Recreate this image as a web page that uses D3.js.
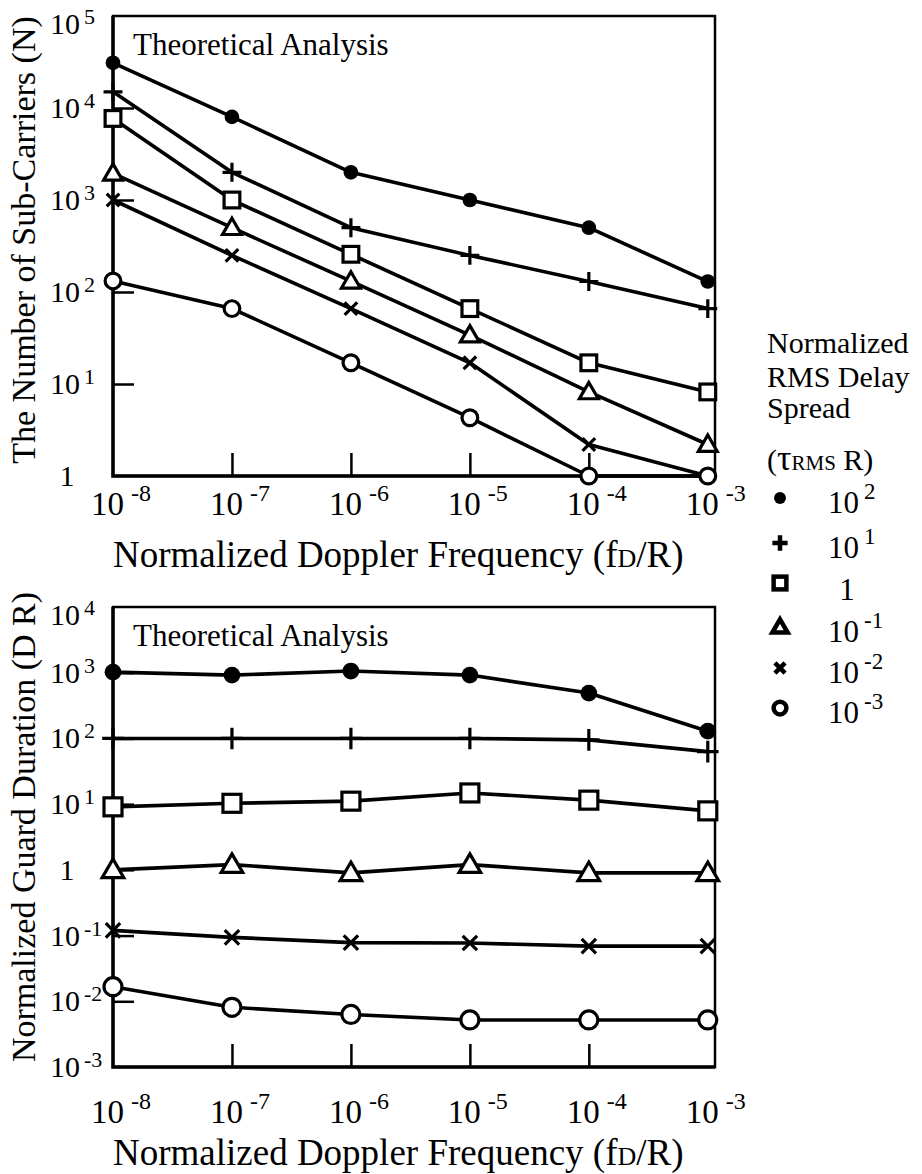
<!DOCTYPE html>
<html>
<head>
<meta charset="utf-8">
<script src="https://cdn.jsdelivr.net/npm/d3@7"></script>
<style>
  body { margin: 0; background: #fff; }
  svg text { font-family: "Liberation Serif", "DejaVu Serif", "Times New Roman", Times, serif; fill: #000; }
</style>
</head>
<body>
<svg id="chart" width="922" height="1174"></svg>
<script>
// normalized Doppler frequency (fD/R) of every point
const dopplerFreq = [1e-8, 1e-7, 1e-6, 1e-5, 1e-4, 1e-3];
const xTickExp = [-8, -7, -6, -5, -4, -3];

// series = normalized rms delay spread (tau_rms R)
const spreadExp = [2, 1, 0, -1, -2, -3];
const spreadMarker = ['dot', 'plus', 'square', 'triangle', 'cross', 'circle'];

// top panel: number of sub-carriers (N)
const carriersSpread1e2  = [31000, 8000, 2000, 1000, 500, 130];
const carriersSpread1e1  = [15000, 2000, 500, 250, 130, 66];
const carriersSpread1e0  = [7700, 1000, 257, 66, 17, 8.2];
const carriersSpread1em1 = [1950, 500, 131, 34, 8.2, 2.2];
const carriersSpread1em2 = [1000, 250, 66, 17, 2.2, 1];
const carriersSpread1em3 = [132, 66, 17, 4.3, 1, 1];
const topYTickExp = [0, 1, 2, 3, 4, 5];

// bottom panel: normalized guard duration (D R)
const guardSpread1e2  = [1020, 920, 1060, 920, 490, 129];
const guardSpread1e1  = [100, 100, 100, 100, 95, 63];
const guardSpread1e0  = [9.1, 10.3, 11.1, 14.8, 11.5, 7.9];
const guardSpread1em1 = [1.0, 1.2, 0.9, 1.2, 0.9, 0.9];
const guardSpread1em2 = [0.12, 0.094, 0.078, 0.077, 0.069, 0.069];
const guardSpread1em3 = [0.0167, 0.0081, 0.0063, 0.0052, 0.0052, 0.0052];
const bottomYTickExp = [-3, -2, -1, 0, 1, 2, 3, 4];

const topSeries = [carriersSpread1e2, carriersSpread1e1, carriersSpread1e0,
                   carriersSpread1em1, carriersSpread1em2, carriersSpread1em3];
const bottomSeries = [guardSpread1e2, guardSpread1e1, guardSpread1e0,
                      guardSpread1em1, guardSpread1em2, guardSpread1em3];

const FONT = '"Liberation Serif", "DejaVu Serif", serif';
const svg = d3.select('#chart').attr('font-family', FONT);

// one marker glyph, s = size factor, w = stroke width
function drawMarker(g, type, s, w) {
	if (type === 'dot') {
		g.append('circle').attr('r', 7 * s).attr('fill', '#000');
	} else if (type === 'circle') {
		g.append('circle').attr('r', 7.5 * s).attr('fill', '#fff')
			.attr('stroke', '#000').attr('stroke-width', w);
	} else if (type === 'square') {
		g.append('rect').attr('x', -7.5 * s).attr('y', -7.5 * s)
			.attr('width', 15 * s).attr('height', 15 * s)
			.attr('fill', '#fff').attr('stroke', '#000').attr('stroke-width', w);
	} else if (type === 'triangle') {
		g.append('path').attr('d', `M0,${-9 * s}L${9 * s},${6.5 * s}L${-9 * s},${6.5 * s}Z`)
			.attr('fill', '#fff').attr('stroke', '#000').attr('stroke-width', w)
			.attr('stroke-linejoin', 'miter');
	} else if (type === 'plus') {
		g.append('path').attr('d', `M${-9 * s},0H${9 * s}M0,${-9 * s}V${9 * s}`)
			.attr('stroke', '#000').attr('stroke-width', w);
	} else if (type === 'cross') {
		g.append('path').attr('d', `M${-6 * s},${-6 * s}L${6 * s},${6 * s}M${-6 * s},${6 * s}L${6 * s},${-6 * s}`)
			.attr('stroke', '#000').attr('stroke-width', w);
	}
}

// "10^e" label, "1" when e is 0
function powLabel(g, x, y, e, size, supSize, raise, anchor, gap) {
	const t = g.append('text').attr('x', x).attr('y', y)
		.attr('font-size', size).attr('text-anchor', anchor);
	if (e === 0) {
		t.text('1');
		return t;
	}
	t.append('tspan').text('10');
	t.append('tspan').attr('font-size', supSize).attr('dx', gap || 4).attr('dy', -raise)
		.text(e < 0 ? '-' + (-e) : String(e));
	return t;
}

function panel(cfg) {
	const x = d3.scaleLog().domain([1e-8, 1.15e-3]).range([113, 715]);
	const y = d3.scaleLog().domain(cfg.yDomain).range([cfg.bottom, cfg.top]);
	const g = svg.append('g');

	// inner ticks
	g.append('g')
		.attr('transform', `translate(0,${cfg.bottom})`)
		.call(d3.axisBottom(x).tickValues([1e-7, 1e-6, 1e-5, 1e-4]).tickSize(-23).tickFormat(''))
		.call(a => a.select('.domain').remove())
		.call(a => a.selectAll('line').attr('stroke', '#000').attr('stroke-width', 2.5));
	g.append('g')
		.attr('transform', 'translate(113,0)')
		.call(d3.axisLeft(y).tickValues(cfg.yTicks.map(e => Math.pow(10, e))).tickSize(-21).tickFormat(''))
		.call(a => a.select('.domain').remove())
		.call(a => a.selectAll('line').attr('stroke', '#000').attr('stroke-width', 2.5));

	// frame
	g.append('rect')
		.attr('x', 113).attr('y', cfg.top)
		.attr('width', 715 - 113).attr('height', cfg.bottom - cfg.top)
		.attr('fill', 'none').attr('stroke', '#000').attr('stroke-width', 2.5);
	g.append('path')
		.attr('d', `M113,${cfg.top}V${cfg.bottom}H715`)
		.attr('fill', 'none').attr('stroke', '#000').attr('stroke-width', 3.5);

	// y tick labels
	cfg.yAllTicks.forEach(e => {
		const yy = Math.max(y(Math.pow(10, e)), cfg.top + 8);
		if (e === 0) powLabel(g, 67, yy + 10, 0, 30, 22, 10, 'middle');
		else powLabel(g, 50, yy + 10, e, 30, 22, 10, 'start', 4);
	});

	// x tick labels
	xTickExp.forEach(e => {
		powLabel(g, x(Math.pow(10, e)) - 22, cfg.xLabelY, e, 33, 24, 14, 'start', 7);
	});

	// x title
	const xt = g.append('text').attr('x', 113).attr('y', cfg.xTitleY).attr('font-size', 37);
	xt.append('tspan').text('Normalized Doppler Frequency (f');
	xt.append('tspan').attr('font-size', 26).text('D');
	xt.append('tspan').text('/R)');

	// y title
	g.append('text')
		.attr('transform', `translate(35,${cfg.yTitleMid}) rotate(-90)`)
		.attr('text-anchor', 'middle').attr('font-size', 34)
		.text(cfg.yTitle);

	g.append('text').attr('x', 133).attr('y', cfg.top + 39).attr('font-size', 31)
		.text('Theoretical Analysis');

	// lines then markers
	const line = d3.line().x((d, i) => x(dopplerFreq[i])).y(d => y(d));
	cfg.series.forEach(vals => {
		g.append('path').datum(vals).attr('d', line)
			.attr('fill', 'none').attr('stroke', '#000').attr('stroke-width', 3.6)
			.attr('stroke-linejoin', 'round');
	});
	cfg.series.forEach((vals, k) => {
		vals.forEach((v, i) => {
			const m = g.append('g').attr('transform', `translate(${x(dopplerFreq[i])},${y(v)})`);
			drawMarker(m, spreadMarker[k], cfg.markerScale, 3.2);
		});
	});
}

panel({
	top: 16, bottom: 476, yDomain: [1, 1e5],
	yTicks: [1, 2, 3, 4], yAllTicks: topYTickExp,
	xLabelY: 515, xTitleY: 567,
	yTitle: 'The Number of Sub-Carriers (N)', yTitleMid: 240,
	series: topSeries, markerScale: 1.05
});

panel({
	top: 607, bottom: 1067, yDomain: [1e-3, 1e4],
	yTicks: [-2, -1, 0, 1, 2, 3], yAllTicks: bottomYTickExp,
	xLabelY: 1123, xTitleY: 1165,
	yTitle: 'Normalized Guard Duration (D R)', yTitleMid: 827,
	series: bottomSeries, markerScale: 1.2
});

// legend
const legend = svg.append('g');
[['Normalized', 353], ['RMS Delay', 387], ['Spread', 418]].forEach(([t, yy]) => {
	legend.append('text').attr('x', 767).attr('y', yy).attr('font-size', 30).text(t);
});
const lt = legend.append('text').attr('x', 767).attr('y', 470).attr('font-size', 30);
lt.append('tspan').text('(');
lt.append('tspan').attr('font-size', 36).text('τ');
lt.append('tspan').attr('font-size', 21).text('RMS');
lt.append('tspan').text(' R)');

const legendMarkY = [498, 543, 583, 627, 668, 708];
spreadExp.forEach((e, k) => {
	const m = legend.append('g').attr('transform', `translate(780,${legendMarkY[k]})`);
	drawMarker(m, spreadMarker[k], 0.85, 4.5);
	if (e === 0) powLabel(legend, 847, legendMarkY[k] + 17, 0, 31, 23, 14, 'middle');
	else powLabel(legend, 828, legendMarkY[k] + 15, e, 31, 23, 14, 'start', 5);
});
</script>
</body>
</html>
